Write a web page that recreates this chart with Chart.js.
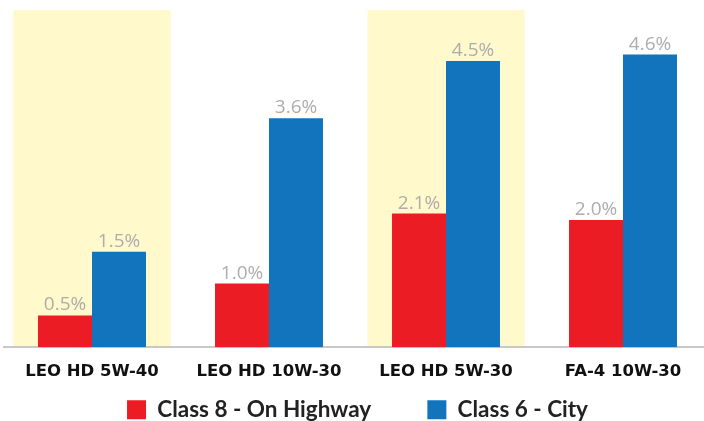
<!DOCTYPE html>
<html>
<head>
<meta charset="utf-8">
<script src="https://cdn.jsdelivr.net/npm/chart.js@4/dist/chart.umd.min.js"></script>
<style>
  html, body { margin: 0; padding: 0; background: #fff; overflow: hidden; }
  #wrap { width: 712px; height: 431px; }
</style>
</head>
<body>
<div id="wrap"><canvas id="myChart"></canvas></div>
<script>
// data //
const categories = ['LEO HD 5W-40', 'LEO HD 10W-30', 'LEO HD 5W-30', 'FA-4 10W-30'];
const class8 = [0.5, 1.0, 2.1, 2.0];
const class6 = [1.5, 3.6, 4.5, 4.6];
const highlighted = [true, false, true, false];

// yellow boxes behind some groups //
const highlightPlugin = {
  id: 'highlight',
  beforeDraw(chart) {
    const ctx = chart.ctx;
    const x = chart.scales.x;
    const area = chart.chartArea;
    const w = (x.width / categories.length) * 0.888;
    ctx.save();
    ctx.fillStyle = '#fff9cc';
    highlighted.forEach(function (on, i) {
      if (!on) return;
      const cx = x.getPixelForValue(i);
      ctx.fillRect(cx - w / 2, area.top, w, area.bottom - area.top);
    });
    ctx.restore();
  }
};

// value labels above bars //
const valueLabels = {
  id: 'valueLabels',
  afterDatasetsDraw(chart) {
    const ctx = chart.ctx;
    ctx.save();
    ctx.fillStyle = '#adadad';
    ctx.font = '19px "Open Sans"';
    ctx.textAlign = 'center';
    ctx.textBaseline = 'alphabetic';
    chart.data.datasets.forEach(function (ds, di) {
      chart.getDatasetMeta(di).data.forEach(function (bar, i) {
        ctx.fillText(ds.data[i].toFixed(1) + '%', bar.x, bar.y - 5);
      });
    });
    ctx.restore();
  }
};

const ctx = document.getElementById('myChart');
new Chart(ctx, {
  type: 'bar',
  data: {
    labels: categories,
    datasets: [{
      label: 'Class 8 - On Highway',
      data: class8,
      backgroundColor: '#ec1c24'
    }, {
      label: 'Class 6 - City',
      data: class6,
      backgroundColor: '#1174bc'
    }]
  },
  options: {
    responsive: true,
    maintainAspectRatio: false,
    animation: false,
    categoryPercentage: 0.61,
    barPercentage: 1.0,
    layout: { padding: { left: 3.5, right: 0.5, top: 10, bottom: 0 } },
    scales: {
      x: {
        grid: { display: false, drawTicks: false },
        border: { display: true, color: '#c8c8c8', width: 2 },
        ticks: {
          color: '#111',
          padding: 15,
          font: { family: 'DejaVu Sans', weight: 'bold', size: 16.5 }
        }
      },
      y: {
        display: false,
        min: 0,
        max: 5.3
      }
    },
    plugins: {
      tooltip: { enabled: false },
      legend: {
        position: 'bottom',
        labels: {
          boxWidth: 19,
          boxHeight: 19,
          padding: 1.5,
          color: '#222',
          font: { family: 'Lato', weight: 'bold', size: 22.5 },
          // wide gap between the two items, padding would also push them down
          generateLabels(chart) {
            const items = Chart.defaults.plugins.legend.labels.generateLabels(chart);
            items.forEach(function (it, i) {
              if (i < items.length - 1) it.text = it.text + '          ';
            });
            return items;
          }
        }
      }
    }
  },
  plugins: [highlightPlugin, valueLabels]
});
</script>
</body>
</html>
